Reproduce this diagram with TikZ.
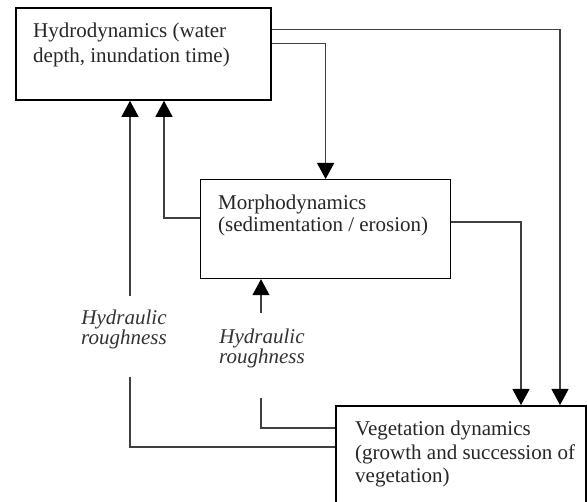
\documentclass[tikz,border=0pt]{standalone}
\usepackage{fontspec}
\setmainfont{Liberation Serif}
\usetikzlibrary{arrows.meta}

\begin{document}
\begin{tikzpicture}[
    x=1pt, y=-1pt,
    box/.style={draw=black, line width=1.8pt, anchor=north west, inner sep=0pt},
    thinbox/.style={box, line width=1.2pt},
    txt/.style={anchor=north west, inner sep=0pt, align=left, text=black!85},
    note/.style={inner sep=0pt, align=center, text=black!80, font=\fontsize{21}{20}\selectfont\itshape},
    link/.style={draw=black!75, line width=1.2pt},
    arr/.style={link, -{Triangle[width=17pt,length=16pt,color=black]}}
]
\clip (0,0) rectangle (587,502);

\node[box, minimum width=255, minimum height=92] (hydro) at (15,7) {};
\node[thinbox, minimum width=250, minimum height=99] (morpho) at (200,179) {};
\node[box, minimum width=250, minimum height=130] (veg) at (335,405) {};

\node[txt, font=\fontsize{21}{25}\selectfont] (hydrotxt) at (33,23) {Hydrodynamics (water\\depth, inundation time)};
\node[txt, font=\fontsize{21}{22}\selectfont] (morphotxt) at (218,195) {Morphodynamics\\(sedimentation / erosion)};
\node[txt, font=\fontsize{21}{23.5}\selectfont] (vegtxt) at (355,421) {Vegetation dynamics\\(growth and succession of\\vegetation)};

\node[note] (rough1) at (124,329) {Hydraulic\\roughness};
\node[note] (rough2) at (262,348) {Hydraulic\\roughness};

\coordinate (up1) at (130,296);
\coordinate (lo1) at (130,377);
\coordinate (up2) at (261,313);
\coordinate (lo2) at (261,398);

\draw[arr] ([yshift=24pt]hydro.east) -| (560,0 |- veg.north);
\draw[arr] ([yshift=10pt]hydro.east) -| (morpho.north);
\draw[arr] ([yshift=7pt]morpho.east) -| (521,0 |- veg.north);
\draw[arr] ([yshift=11pt]morpho.west) -| (164,0 |- hydro.south);
\draw[arr] (up1) -- (up1 |- hydro.south);
\draw[arr] (up2) -- (up2 |- morpho.south);
\draw[link] (veg.west |- 0,447) -| (lo1);
\draw[link] (veg.west |- 0,428) -| (lo2);
\end{tikzpicture}
\end{document}
